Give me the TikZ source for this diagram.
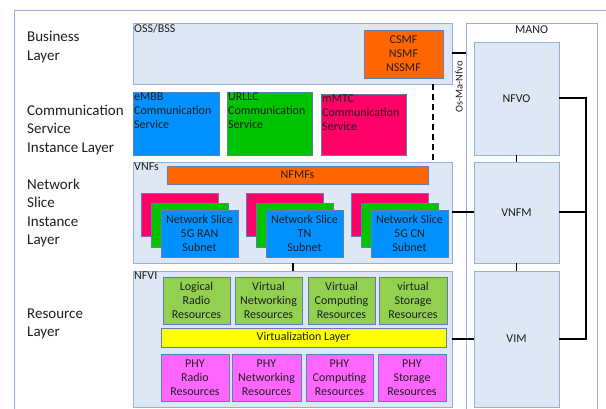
\documentclass[tikz,border=0pt]{standalone}
\usepackage{fontspec}
\setmainfont{Carlito}
\usetikzlibrary{calc}
\definecolor{bg}{RGB}{222,232,244}
\definecolor{bd}{RGB}{150,175,215}
\definecolor{bd2}{RGB}{95,125,185}
\definecolor{orange1}{RGB}{255,102,0}
\definecolor{blue1}{RGB}{0,145,255}
\definecolor{green1}{RGB}{0,196,0}
\definecolor{pink1}{RGB}{255,0,102}
\definecolor{lgreen}{RGB}{146,208,80}
\definecolor{yel}{RGB}{255,255,0}
\definecolor{mag}{RGB}{255,102,255}
\definecolor{txt}{RGB}{30,30,30}
\newcommand\fs[1]{\fontsize{#1}{#1*1.17}\selectfont}
\newcommand\bx[7]{\node[#6, minimum width={((#4)-(#2))*1pt}, minimum height={((#5)-(#3))*1pt}] (#1) at ({((#2)+(#4))/2},{((#3)+(#5))/2}) {#7};}
\newcommand\stack[3]{%
 \bx{#1p}{#2}{193}{#2+77}{236}{cbox,fill=pink1}{}
 \bx{#1g}{#2+10}{203}{#2+87}{247}{cbox,fill=green1}{}
 \bx{#1b}{#2+20}{210}{#2+97}{257}{cbox,fill=blue1}{Network Slice\\#3\\Subnet}
}
\tikzset{
 base/.style={inner sep=0pt, outer sep=0pt, align=center, text=txt, font=\fontsize{12}{14}\selectfont},
 panel/.style={base, draw=bd, fill=bg, line width=0.9pt},
 manobox/.style={base, draw=bd, fill=white, line width=0.9pt},
 cbox/.style={base, draw=bd2, line width=0.7pt},
 tl/.style={anchor=north west, align=left, inner sep=1pt, text=txt, font=\fontsize{12}{14}\selectfont},
 side/.style={anchor=west, align=left, inner sep=0pt, text=txt, font=\fontsize{15}{18.5}\selectfont},
 conn/.style={line width=2pt, black},
 thin/.style={line width=0.8pt, black},
 frame/.style={draw=bd, line width=0.9pt}
}
\begin{document}
\begin{tikzpicture}[x=1pt,y=-1pt]
\useasboundingbox (0,0) rectangle (606,409);
\clip (0,0) rectangle (606,409);
\draw[frame] (14,430) -- (14,10) -- (640,10);
% left labels
\node[side] (lbus) at (27,47) {Business\\Layer};
\node[side] (lcom) at (27,130) {Communication\\Service\\Instance Layer};
\node[side] (lnsi) at (27,213) {Network\\Slice\\Instance\\Layer};
\node[side] (lres) at (27,324) {Resource\\Layer};
% MANO
\bx{mano}{466}{23}{597}{440}{manobox}{}
\node[base, anchor=north] (manoT) at ($(mano.north)+(0,3)$) {MANO};
% OSS/BSS
\bx{oss}{133}{23}{452}{84}{panel}{}
\node[tl] (ossT) at (oss.north west) {OSS/BSS};
\bx{csmf}{364}{30}{443}{78}{cbox,fill=orange1}{CSMF\\NSMF\\NSSMF}
% communication services
\bx{embb}{133}{92}{219}{155}{cbox,fill=blue1}{}
\node[tl] (embbT) at (embb.north west) {eMBB\\Communication\\Service};
\bx{urllc}{227}{92}{312}{155}{cbox,fill=green1}{}
\node[tl] (urllcT) at (urllc.north west) {URLLC\\Communication\\Service};
\bx{mmtc}{321}{94}{406}{155}{cbox,fill=pink1}{}
\node[tl] (mmtcT) at (mmtc.north west) {mMTC\\Communication\\Service};
% VNFs
\bx{vnfs}{133}{162}{452}{263}{panel}{}
\node[tl] (vnfsT) at (vnfs.north west) {VNFs};
\bx{nfmf}{167}{166}{428}{184}{cbox,fill=orange1}{NFMFs}
\stack{sa}{141}{5G RAN}
\stack{sb}{246}{TN}
\stack{sc}{351}{5G CN}
% NFVI
\bx{nfvi}{133}{271}{452}{407}{panel}{}
\node[tl] (nfviT) at (nfvi.north west) {NFVI};
\bx{lr}{163}{277}{230}{324}{cbox,fill=lgreen}{Logical\\Radio\\Resources}
\bx{vn}{235}{277}{302}{324}{cbox,fill=lgreen}{Virtual\\Networking\\Resources}
\bx{vc}{308}{277}{375}{324}{cbox,fill=lgreen}{Virtual\\Computing\\Resources}
\bx{vs}{379}{277}{447}{324}{cbox,fill=lgreen}{virtual\\Storage\\Resources}
\bx{virt}{161}{328}{446}{347}{cbox,fill=yel}{Virtualization Layer}
\bx{pr}{161}{354}{229}{401}{cbox,fill=mag}{PHY\\Radio\\Resources}
\bx{pn}{232}{354}{301}{401}{cbox,fill=mag}{PHY\\Networking\\Resources}
\bx{pc}{306}{354}{373}{401}{cbox,fill=mag}{PHY\\Computing\\Resources}
\bx{ps}{378}{354}{446}{401}{cbox,fill=mag}{PHY\\Storage\\Resources}
% MANO blocks
\bx{nfvo}{474}{42}{559}{155}{panel}{NFVO}
\bx{vnfm}{474}{162}{559}{263}{panel}{VNFM}
\bx{vim}{474}{271}{559}{407}{panel}{VIM}
% connectors
\draw[conn] (oss.east) -- (oss.east -| mano.west);
\node[rotate=90, inner sep=0pt, text=txt, font=\fontsize{10.5}{12}\selectfont] (osma) at (459,87) {Os-Ma-Nfvo};
\draw[conn, dash pattern=on 6pt off 4pt] ($(oss.south east)+(-19,0)$) -- ($(vnfs.north east)+(-19,0)$);
\draw[conn] (vnfs.south) -- (nfvi.north);
\draw[conn] (vnfs.east) -- (vnfm.west);
\draw[conn] (nfvi.east) -- (vim.west);
\draw[thin] (nfvo.south) -- (vnfm.north);
\draw[thin] (vnfm.south) -- (vim.north);
\draw[conn] (nfvo.east) -- ++(27,0) |- (vim.east);
\draw[conn] (vnfm.east) -- ++(27,0);
\end{tikzpicture}
\end{document}
